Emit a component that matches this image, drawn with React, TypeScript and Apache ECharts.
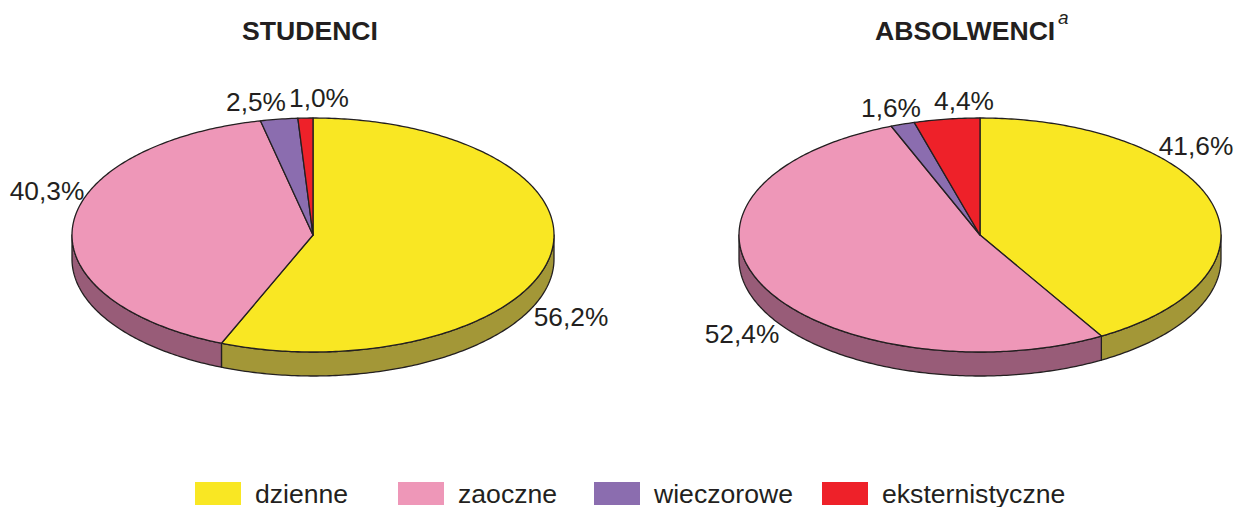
import React, { useEffect, useRef } from "react";
import * as echarts from "echarts";

const categories = ["dzienne", "zaoczne", "wieczorowe", "eksternistyczne"];
const studenci = [56.2, 40.3, 2.5, 1.0];
const absolwenci = [41.6, 52.4, 1.6, 4.4];

const topColors = ["#F9E723", "#EE97B8", "#8B6DAF", "#EE2129"];
const sideColors = ["#A39737", "#985C78", "#5F4A78", "#A31A20"];
const INK = "#231F20";
const FONT = "'Liberation Sans', Arial, sans-serif";

const RX = 241;
const RY = 117;
const DEPTH = 24;
const CY = 235;

const pies = [
  { values: studenci, cx: 313, labelAt: [[571, 317], [47, 191], [256, 102], [319, 98]] },
  { values: absolwenci, cx: 980, labelAt: [[1196, 146], [742, 334], [891, 108], [964, 101]] },
];
const legendLeft = [195, 398, 594, 822];

const point = (cx: number, deg: number, dy = 0) => {
  const t = (deg * Math.PI) / 180;
  return [cx + RX * Math.sin(t), CY - RY * Math.cos(t) + dy];
};

const arc = (cx: number, from: number, to: number, dy = 0) => {
  const pts: number[][] = [];
  const n = Math.max(2, Math.ceil((to - from) / 0.75));
  for (let i = 0; i <= n; i++) pts.push(point(cx, from + ((to - from) * i) / n, dy));
  return pts;
};

const makeSeries = (pieIndex: number, catIndex: number) => {
  const pie = pies[pieIndex];
  const before = pie.values.slice(0, catIndex).reduce((a, b) => a + b, 0);
  return {
    type: "custom",
    name: categories[catIndex],
    coordinateSystem: "none",
    silent: true,
    itemStyle: { color: topColors[catIndex] },
    data: [[pie.values[catIndex]]],
    renderItem: (_p: unknown, api: any) => {
      const value = api.value(0) as number;
      const a0 = (before / 100) * 360;
      const a1 = ((before + value) / 100) * 360;
      const children: any[] = [];
      const s0 = Math.max(a0, 90);
      const s1 = Math.min(a1, 270);
      if (s1 > s0) {
        children.push({
          type: "polygon",
          shape: {
            points: [...arc(pie.cx, s0, s1), ...arc(pie.cx, s0, s1, DEPTH).reverse()],
          },
          style: { fill: sideColors[catIndex], stroke: INK, lineWidth: 1.3, lineJoin: "round" },
        });
      }
      children.push({
        type: "polygon",
        shape: { points: [[pie.cx, CY], ...arc(pie.cx, a0, a1)] },
        style: { fill: topColors[catIndex], stroke: INK, lineWidth: 1.3, lineJoin: "round" },
      });
      const [lx, ly] = pie.labelAt[catIndex];
      children.push({
        type: "text",
        style: {
          x: lx,
          y: ly,
          text: value.toFixed(1).replace(".", ",") + "%",
          fill: INK,
          font: `26.3px ${FONT}`,
          align: "center",
          verticalAlign: "middle",
        },
      });
      return { type: "group", children };
    },
  };
};

export default function App() {
  const ref = useRef<HTMLDivElement>(null);
  useEffect(() => {
    const chart = echarts.init(ref.current!, null, { renderer: "svg" });
    const titleStyle = { color: INK, fontFamily: FONT, fontSize: 26.6, fontWeight: "bold" as const };
    chart.setOption({
      animation: false,
      backgroundColor: "#ffffff",
      title: [
        { text: "STUDENCI", left: 242, top: 17, padding: 0, textStyle: titleStyle },
        { text: "ABSOLWENCI", left: 875, top: 17, padding: 0, textStyle: titleStyle },
        {
          text: "a",
          left: 1058,
          top: 8,
          padding: 0,
          textStyle: { color: INK, fontFamily: FONT, fontSize: 19, fontStyle: "italic", fontWeight: "normal" },
        },
      ],
      legend: categories.map((name, i) => ({
        data: [name],
        left: legendLeft[i],
        top: 480,
        padding: 0,
        itemWidth: 46,
        itemHeight: 23,
        icon: "rect",
        selectedMode: false,
        itemStyle: { color: topColors[i], borderWidth: 0 },
        textStyle: { color: INK, fontFamily: FONT, fontSize: 26.6, padding: [4, 0, 0, 9] },
      })),
      series: pies.flatMap((_, p) => categories.map((__, c) => makeSeries(p, c))),
    });
    return () => chart.dispose();
  }, []);
  return (
    <div
      ref={ref}
      style={{ position: "absolute", left: 0, top: 0, width: 1237, height: 507 }}
    />
  );
}
